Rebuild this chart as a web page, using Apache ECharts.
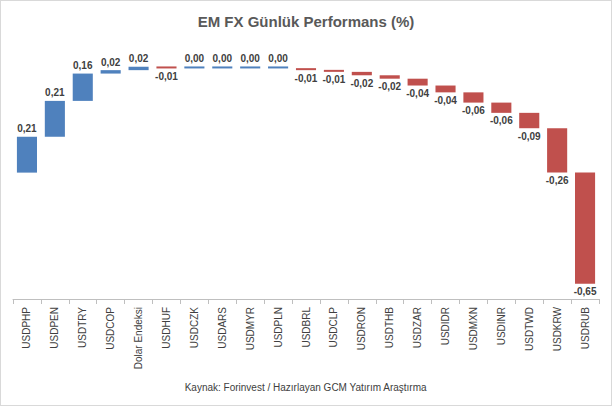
<!DOCTYPE html>
<html>
  <head>
    <style>
      html, body { margin: 0; padding: 0; background: #fff; }
      #chart-container { width: 610px; height: 404px; border: 1px solid #d9d9d9; }
    </style>
    <script src="https://cdn.jsdelivr.net/npm/echarts@6/dist/echarts.min.js"></script>
  </head>
  <body>
    <div id="chart-container"></div>
    <script>
      var categories = ["USDPHP", "USDPEN", "USDTRY", "USDCOP", "Dolar Endeksi", "USDHUF", "USDCZK", "USDARS", "USDMYR", "USDPLN", "USDBRL", "USDCLP", "USDRON", "USDTHB", "USDZAR", "USDIDR", "USDMXN", "USDINR", "USDTWD", "USDKRW", "USDRUB"];
      var values = [0.21, 0.21, 0.16, 0.02, 0.02, -0.01, 0.00, 0.00, 0.00, 0.00, -0.01, -0.01, -0.02, -0.02, -0.04, -0.04, -0.06, -0.06, -0.09, -0.26, -0.65];

      // şelale: görünmez taban + görünür çubuk (sıfırı geçmemek için +1 kaydırma)
      var OFFSET = 1;
      var base = [], bars = [], run = 0;
      values.forEach(function (v) {
        var neg = v < 0;
        base.push((neg ? run + v : run) + OFFSET);
        bars.push({
          value: Math.abs(v),
          raw: v,
          itemStyle: { color: neg ? "#c0504d" : "#4f81bd" },
          label: { position: neg ? "bottom" : "top" }
        });
        run += v;
      });

      var myChart = echarts.init(document.getElementById("chart-container"), "", { renderer: "svg" });
      myChart.setOption({
        animation: false,
        title: {
          text: "EM FX Günlük Performans (%)",
          left: "center", top: 8,
          textStyle: { fontFamily: "Liberation Sans", fontSize: 15, fontWeight: "bold", color: "#595959" }
        },
        graphic: [{
          type: "text", left: "center", top: 381,
          style: { text: "Kaynak: Forinvest / Hazırlayan GCM Yatırım Araştırma", fontFamily: "Liberation Sans", fontSize: 10, fill: "#404040" }
        }],
        grid: { left: 12, right: 12, top: 35, bottom: 106 },
        xAxis: {
          type: "category",
          data: categories,
          axisLine: { onZero: false, lineStyle: { color: "#bfbfbf" } },
          axisTick: { show: true, interval: 0, lineStyle: { color: "#bfbfbf" } },
          axisLabel: { interval: 0, rotate: 90, fontFamily: "Liberation Sans", fontSize: 10, color: "#404040" }
        },
        yAxis: { type: "value", min: 0.26, max: 1.8, show: false, splitLine: { show: false } },
        series: [
          { type: "bar", stack: "w", data: base, itemStyle: { color: "transparent" }, silent: true },
          {
            type: "bar", stack: "w", data: bars, barWidth: "72%", barMinHeight: 2,
            label: {
              show: true, fontFamily: "Liberation Sans", fontSize: 10, fontWeight: "bold", color: "#404040", distance: 3,
              formatter: function (p) { return p.data.raw.toFixed(2).replace(".", ","); }
            }
          }
        ]
      });
    </script>
  </body>
</html>
